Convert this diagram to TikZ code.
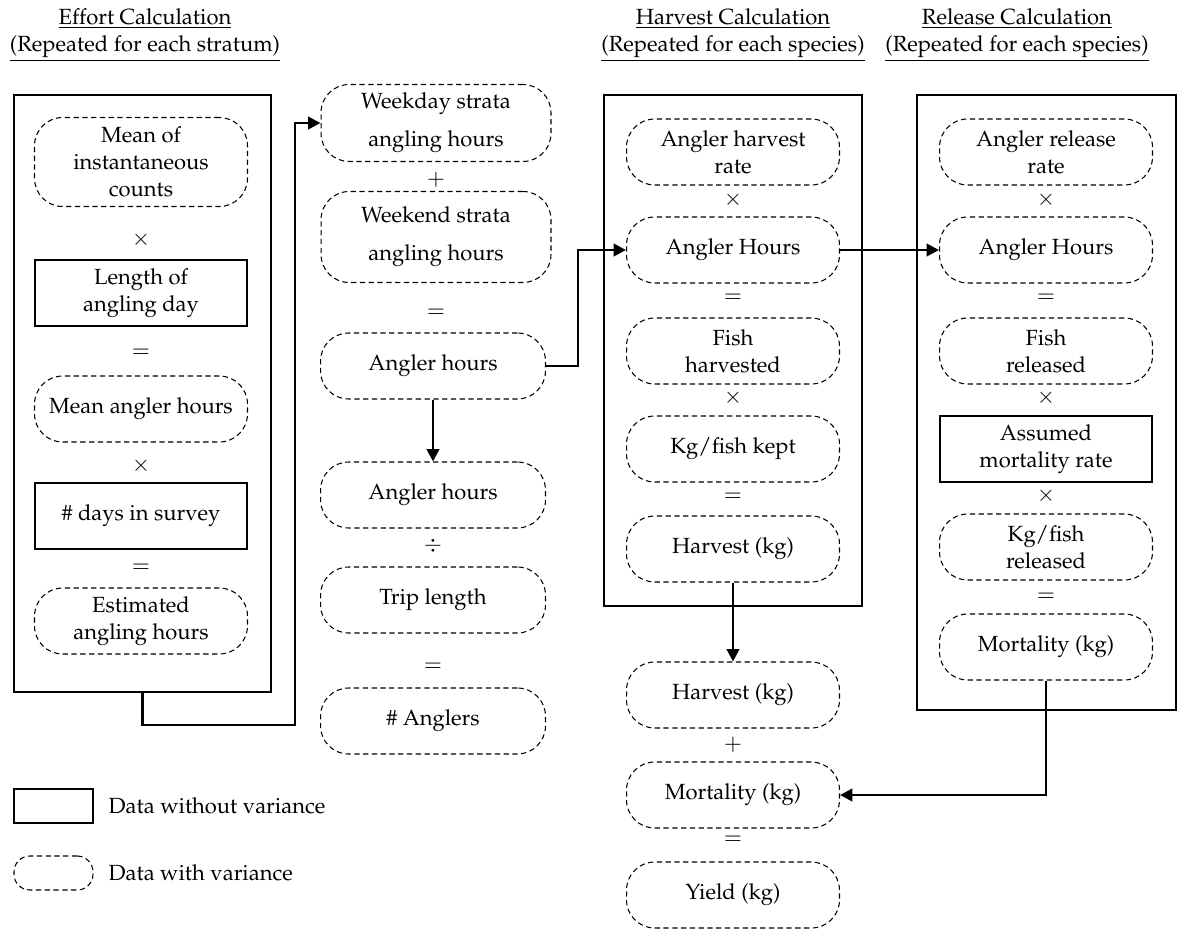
\documentclass[tikz,border=0pt]{standalone}
\IfFileExists{mathpazo.sty}{\usepackage[T1]{fontenc}\usepackage{mathpazo}}{\usepackage{fontspec}\setmainfont{Liberation Serif}}
\usepackage{tikz}
\usetikzlibrary{arrows.meta,positioning}

\begin{document}
\begin{tikzpicture}[x=0.02cm,y=-0.02cm,
  every node/.style={font=\fontsize{12.5pt}{15.5pt}\selectfont, inner sep=1pt},
  var/.style={draw, line width=0.6pt, dash pattern=on 3pt off 2pt, rounded corners=16pt, align=center,
    minimum width=4.26cm, minimum height=1.32cm},
  fixed/.style={draw, line width=0.7pt, align=center, minimum width=4.24cm, minimum height=1.32cm},
  group/.style={draw, line width=0.8pt},
  conn/.style={line width=1.6pt, -{Triangle[length=7pt,width=7pt]}},
  title/.style={align=center}]
\useasboundingbox (0,0) rectangle (1196,930);
% titles
\node[title] (efforttitle) at (145,35) {\underline{Effort Calculation}\\\underline{(Repeated for each stratum)}};
\node[title] (harvesttitle) at (733,35) {\underline{Harvest Calculation}\\\underline{(Repeated for each species)}};
\node[title] (releasetitle) at (1017,35) {\underline{Release Calculation}\\\underline{(Repeated for each species)}};
% group boxes
\node[group, minimum width=5.14cm, minimum height=11.94cm] (effortbox) at (142.5,393.5) {};
\node[group, minimum width=5.16cm, minimum height=10.22cm] (harvestbox) at (733,350.5) {};
\node[group, minimum width=5.18cm, minimum height=12.3cm] (releasebox) at (1046.5,402.5) {};
% effort column
\node[var, minimum height=1.78cm] (meancounts) at (141,162) {Mean of\\instantaneous\\counts};
\node (op1) at (141,240) {$\times$};
\node[fixed] (daylength) at (141,293) {Length of\\angling day};
\node (op2) at (141,353) {$=$};
\node[var] (meanhours) at (141,409) {Mean angler hours};
\node (op3) at (141,466) {$\times$};
\node[fixed] (surveydays) at (141,516) {\# days in survey};
\node (op4) at (141,568) {$=$};
\node[var] (esthours) at (141,621) {Estimated\\angling hours};
% strata column
\node[var, minimum width=4.6cm, minimum height=1.54cm] (weekday) at (436,123) {Weekday strata\\[6pt]angling hours};
\node (op5) at (436,180) {$+$};
\node[var, minimum width=4.6cm, minimum height=1.82cm] (weekend) at (436,237) {Weekend strata\\[6pt]angling hours};
\node (op6) at (436,313) {$=$};
\node[var, minimum width=4.5cm] (anglerhrs) at (433,366) {Angler hours};
\node[var, minimum width=4.5cm] (anglerhrsb) at (433,495) {Angler hours};
\node (op7) at (433,546) {$\div$};
\node[var, minimum width=4.5cm] (triplength) at (433,600) {Trip length};
\node (op8) at (433,667) {$=$};
\node[var, minimum width=4.5cm] (anglers) at (433,721) {\# Anglers};
% harvest column
\node[var] (harvrate) at (733,152) {Angler harvest\\rate};
\node (op9) at (733,200) {$\times$};
\node[var] (harvhours) at (733,250) {Angler Hours};
\node (op10) at (733,298) {$=$};
\node[var] (fishharv) at (733,351) {Fish\\harvested};
\node (op11) at (733,398) {$\times$};
\node[var] (kgkept) at (733,449) {Kg/fish kept};
\node (op12) at (733,497) {$=$};
\node[var] (harvkg) at (733,549) {Harvest (kg)};
\node[var] (harvkgb) at (733,695) {Harvest (kg)};
\node (op13) at (733,745) {$+$};
\node[var] (mortkgb) at (733,795) {Mortality (kg)};
\node (op14) at (733,840) {$=$};
\node[var] (yield) at (733,895) {Yield (kg)};
% release column
\node[var] (relrate) at (1046,152) {Angler release\\rate};
\node (op15) at (1046,200) {$\times$};
\node[var] (relhours) at (1046,250) {Angler Hours};
\node (op16) at (1046,298) {$=$};
\node[var] (fishrel) at (1046,351) {Fish\\released};
\node (op17) at (1046,398) {$\times$};
\node[fixed] (mortrate) at (1046,449) {Assumed\\mortality rate};
\node (op18) at (1046,496) {$\times$};
\node[var] (kgrel) at (1046,547) {Kg/fish\\released};
\node (op19) at (1046,597) {$=$};
\node[var] (mortkg) at (1046,647) {Mortality (kg)};
% legend
\node[fixed, minimum width=1.58cm, minimum height=0.68cm] (keyfixed) at (53.5,806) {};
\node[right=0.26cm of keyfixed] (keyfixedtext) {Data without variance};
\node[var, minimum width=1.58cm, minimum height=0.68cm, rounded corners=9pt] (keyvar) at (53.5,873) {};
\node[right=0.26cm of keyvar] (keyvartext) {Data with variance};
% connectors
\coordinate (effortbend) at (295,725);
\draw[conn] (effortbox.south) |- (effortbend) |- (weekday.west);
\draw[conn] (anglerhrs.east) -- ++(32,0) |- (harvhours.west);
\draw[conn] (anglerhrs.south) -- (anglerhrsb.north);
\draw[conn] (harvkg.south) -- (harvkgb.north);
\draw[conn] (harvhours.east) -- (relhours.west);
\draw[conn] (mortkg.south) |- (mortkgb.east);
\end{tikzpicture}
\end{document}
